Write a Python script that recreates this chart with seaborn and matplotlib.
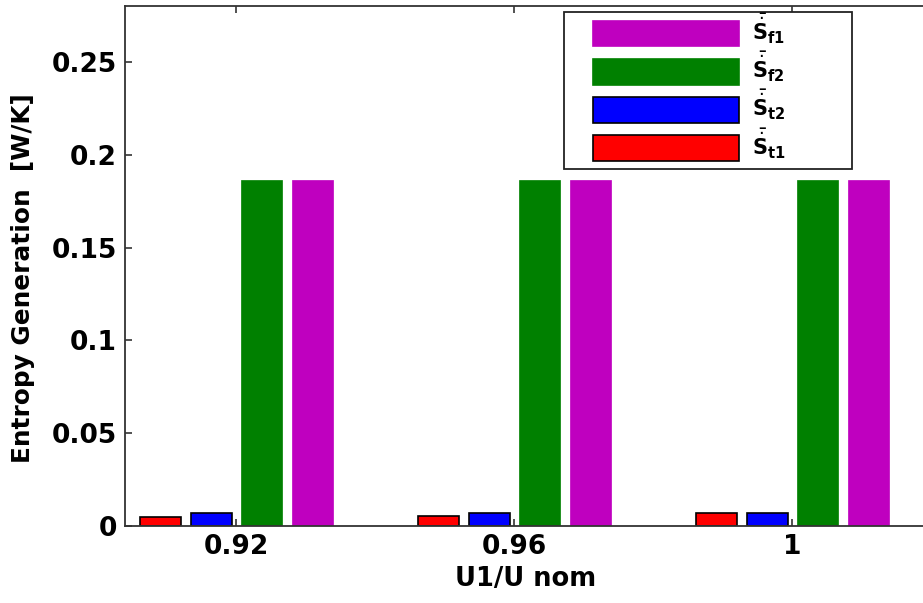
"""Entropy generation per loss term for three U1/U nom ratios."""

import matplotlib

matplotlib.use("Agg")
import matplotlib.pyplot as plt
import pandas as pd
import seaborn as sns
from matplotlib.patches import Rectangle

RATIOS = ["0.92", "0.96", "1"]
S_T1 = [0.0049, 0.0054, 0.0070]
S_T2 = [0.0070, 0.0070, 0.0070]
S_F2 = [0.1865, 0.1865, 0.1865]
S_F1 = [0.1865, 0.1865, 0.1865]
SERIES = ["t1", "t2", "f2", "f1"]
COLORS = ["#ff0000", "#0000ff", "#008000", "#bf00bf"]
Y_TICKS = [0, 0.05, 0.1, 0.15, 0.2, 0.25]
Y_TICK_LABELS = ["0", "0.05", "0.1", "0.15", "0.2", "0.25"]

W, H = 923, 603


def main() -> None:
    frame = pd.DataFrame(
        {
            "ratio": RATIOS * 4,
            "series": [s for s in SERIES for _ in RATIOS],
            "value": S_T1 + S_T2 + S_F2 + S_F1,
        }
    )

    sns.set_theme(style="white")
    plt.rcParams["font.family"] = ["DejaVu Sans"]
    plt.rcParams["mathtext.fontset"] = "dejavusans"
    plt.rcParams["text.color"] = "black"
    plt.rcParams["axes.labelcolor"] = "black"
    plt.rcParams["xtick.labelcolor"] = "black"
    plt.rcParams["ytick.labelcolor"] = "black"

    fig = plt.figure(figsize=(W / 100, H / 100), dpi=100)
    ax = fig.add_axes([125 / W, (H - 525.7) / H, 802 / W, 519.7 / H])
    sns.barplot(
        data=frame,
        x="ratio",
        y="value",
        hue="series",
        hue_order=SERIES,
        palette=COLORS,
        saturation=1,
        width=0.727,
        gap=0.188,
        errorbar=None,
        legend=False,
        ax=ax,
    )
    for i, container in enumerate(ax.containers):
        for patch in container.patches:
            if i < 2:
                patch.set_edgecolor("black")
                patch.set_linewidth(1.2)
            else:
                patch.set_edgecolor(COLORS[i])
                patch.set_linewidth(0.5)

    ax.set_xlim(-0.401, 2.484)
    ax.set_ylim(0, 0.2803)
    ax.set_yticks(Y_TICKS)
    ax.set_yticklabels(Y_TICK_LABELS)
    ax.tick_params(
        direction="in", length=5, width=1.2, color="#333333",
        labelcolor="black",
        top=True, right=False, bottom=True, left=True,
        labelsize=19, pad=6,
    )
    for label in ax.get_xticklabels() + ax.get_yticklabels():
        label.set_fontweight("bold")
    for spine in ax.spines.values():
        spine.set_color("#333333")
        spine.set_linewidth(1.3)
    ax.set_xlabel("U1/U nom", fontsize=18.5, fontweight="bold", labelpad=4, color="black")
    ax.set_ylabel("Entropy Generation  [W/K]", fontsize=17.8, fontweight="bold",
                  labelpad=12, color="black")
    ax.yaxis.label.set_y(0.4757)

    # legend, top entry first (reverse of drawing order)
    labels = {
        "f1": r"$\bar{\dot{\mathbf{S}}}_{\mathbf{f1}}$",
        "f2": r"$\bar{\dot{\mathbf{S}}}_{\mathbf{f2}}$",
        "t2": r"$\bar{\dot{\mathbf{S}}}_{\mathbf{t2}}$",
        "t1": r"$\bar{\dot{\mathbf{S}}}_{\mathbf{t1}}$",
    }
    handles = []
    for i, key in enumerate(SERIES):
        edge = "black" if i < 2 else COLORS[i]
        handles.append(Rectangle((0, 0), 1, 1, facecolor=COLORS[i], edgecolor=edge, linewidth=1.2))
    handles = handles[::-1]
    texts = [labels[k] for k in SERIES[::-1]]
    fig.patches.append(
        Rectangle(
            (564 / W, 1 - 169 / H), (851.7 - 564) / W, (169 - 12.3) / H,
            transform=fig.transFigure, facecolor="white", edgecolor="#222222",
            linewidth=1.3, zorder=3,
        )
    )
    fig.legend(
        handles, texts,
        loc="upper left", bbox_to_anchor=(582.5 / W, 1 - 1 / H),
        frameon=False, borderpad=0, fontsize=15, labelcolor="black",
        handlelength=7.0, handleheight=1.53, handletextpad=0.65,
        labelspacing=0.15,
    )

    fig.savefig("out.png", dpi=100)
    plt.close(fig)


if __name__ == "__main__":
    main()
